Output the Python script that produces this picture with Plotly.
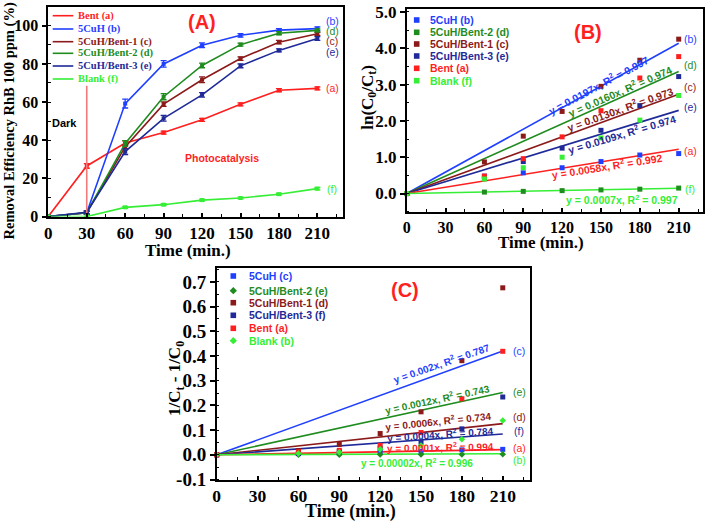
import plotly.graph_objects as go

W, H = 708, 523


def px(x, y):
    return x / W, 1 - y / H


RED = "#ff1f1f"
BLUE = "#1f3fff"
BROWN = "#8b1a1a"
GREEN = "#1f8c1f"
NAVY = "#1f2a98"
LIME = "#35ee35"
SALMON = "#f27a7a"

SERIF = "Liberation Serif"
SANS = "Liberation Sans"

# ---------------- Panel A data ----------------
time_a = [0, 30, 60, 90, 120, 150, 180, 210]
names_a = ["Bent (a)", "5CuH (b)", "5CuH/Bent-1 (c)", "5CuH/Bent-2 (d)", "5CuH/Bent-3 (e)", "Blank (f)"]
colors_a = [RED, BLUE, BROWN, GREEN, NAVY, LIME]
bent_a = [0, 26.5, 38.5, 44, 50.7, 58.8, 66.2, 67.2]
cuh_a = [0, 2, 59.2, 80, 89.8, 95, 97.7, 98.5]
bent1_a = [0, 2, 36.5, 58.9, 71.7, 82.8, 91.4, 95.8]
bent2_a = [0, 2, 38.3, 62.8, 79.2, 90.1, 96.1, 97.6]
bent3_a = [0, 2.2, 34, 51.5, 63.8, 79, 87.1, 93.3]
blank_a = [0, 0, 4.8, 6.2, 8.6, 9.7, 11.7, 14.6]
values_a = [bent_a, cuh_a, bent1_a, bent2_a, bent3_a, blank_a]
err_bent = [0, 1.2, 1.2, 0.8, 0.8, 0.8, 0.8, 0.8]
err_cuh = [0, 0.8, 2.3, 1.7, 1.2, 0.9, 0.8, 0.9]
err_bent1 = [0, 0.8, 1.0, 1.2, 1.5, 0.9, 0.9, 0.8]
err_bent2 = [0, 0.8, 1.5, 1.6, 1.2, 0.8, 0.8, 0.8]
err_bent3 = [0, 0.8, 1.5, 1.5, 1.2, 1.0, 0.8, 1.0]
err_blank = [0, 0, 0.5, 0.5, 0.5, 0.5, 0.5, 0.6]
errors_a = [err_bent, err_cuh, err_bent1, err_bent2, err_bent3, err_blank]
dark_line_x = [30, 30]
dark_line_y = [0, 68.5]
end_labels_a = ["(b)", "(d)", "(c)", "(e)", "(a)", "(f)"]
end_labels_a_y = [102.5, 97.3, 92, 86.5, 67.5, 14.2]
end_colors_a = [BLUE, GREEN, BROWN, NAVY, RED, LIME]

# ---------------- Panel B data ----------------
time_b = [0, 60, 90, 120, 150, 180, 210]
names_b = ["5CuH (b)", "5CuH/Bent-2 (d)", "5CuH/Bent-1 (c)", "5CuH/Bent-3 (e)", "Bent (a)", "Blank (f)"]
colors_b = [BLUE, GREEN, BROWN, NAVY, RED, LIME]
pts_b_blue = [0, 0.48, 0.57, 0.71, 0.88, 1.06, 1.10]
pts_b_green = [0, 0.04, 0.06, 0.08, 0.10, 0.12, 0.15]
pts_b_brown = [0, 0.87, 1.58, 2.26, 2.95, 3.67, 4.25]
pts_b_navy = [0, 0.43, 0.88, 1.25, 1.74, 2.42, 3.22]
pts_b_red = [0, 0.48, 0.96, 1.56, 2.28, 3.18, 3.77]
pts_b_lime = [0, 0.40, 0.71, 1.00, 1.53, 2.02, 2.70]
points_b = [pts_b_blue, pts_b_green, pts_b_brown, pts_b_navy, pts_b_red, pts_b_lime]
fit_slopes_b = [0.0197, 0.0160, 0.0130, 0.0109, 0.0058, 0.0007]
fit_colors_b = [BLUE, GREEN, BROWN, NAVY, RED, LIME]
fit_r2_b = ["0.997", "0.974", "0.973", "0.974", "0.992", "0.997"]
fit_slope_txt_b = ["0.0197", "0.0160", "0.0130", "0.0109", "0.0058", "0.0007"]
end_labels_b = ["(b)", "(d)", "(c)", "(e)", "(a)", "(f)"]
end_labels_b_y = [4.25, 3.55, 2.93, 2.38, 1.18, 0.12]

# ---------------- Panel C data ----------------
time_c = [0, 60, 90, 120, 150, 180, 210]
names_c = ["5CuH (c)", "5CuH/Bent-2 (e)", "5CuH/Bent-1 (d)", "5CuH/Bent-3 (f)", "Bent (a)", "Blank (b)"]
colors_c = [BLUE, GREEN, BROWN, NAVY, RED, LIME]
symbols_c = ["square", "diamond", "square", "square", "square", "diamond"]
pts_c_blue = [0, 0.006, 0.008, 0.012, 0.014, 0.020, 0.022]
pts_c_green = [0, 0.0005, 0.0007, 0.0009, 0.0011, 0.0014, 0.0018]
pts_c_brown = [0, 0.017, 0.042, 0.086, 0.174, 0.381, 0.676]
pts_c_navy = [0, 0.005, 0.014, 0.027, 0.051, 0.105, 0.234]
pts_c_red = [0, 0.012, 0.018, 0.038, 0.090, 0.227, 0.419]
pts_c_lime = [0, 0.005, 0.010, 0.022, 0.038, 0.063, 0.139]
points_c = [pts_c_blue, pts_c_green, pts_c_brown, pts_c_navy, pts_c_red, pts_c_lime]
fit_slopes_c = [0.002, 0.0012, 0.0006, 0.0004, 0.0001, 0.00002]
fit_colors_c = [BLUE, GREEN, BROWN, NAVY, RED, LIME]
fit_r2_c = ["0.787", "0.743", "0.734", "0.784", "0.994", "0.996"]
fit_slope_txt_c = ["0.002", "0.0012", "0.0006", "0.0004", "0.0001", "0.00002"]
end_labels_c = ["(c)", "(e)", "(d)", "(f)", "(a)", "(b)"]
end_labels_c_y = [0.42, 0.253, 0.152, 0.098, 0.029, -0.02]

fit_x = [0, 210]

fig = go.Figure()

# Panel A traces
for name, col, vals, err in zip(names_a, colors_a, values_a, errors_a):
    fig.add_trace(go.Scatter(
        x=time_a, y=vals, mode="lines+markers", name=name,
        line=dict(color=col, width=1.6),
        marker=dict(color=col, size=4, symbol="square"),
        error_y=dict(type="data", array=err, visible=True, color=col, thickness=1.3, width=3),
        xaxis="x", yaxis="y", showlegend=False, cliponaxis=False))
fig.add_trace(go.Scatter(x=dark_line_x, y=dark_line_y, mode="lines",
                         line=dict(color=SALMON, width=1.6),
                         xaxis="x", yaxis="y", showlegend=False))

# Panel B traces
for slope, col in zip(fit_slopes_b, fit_colors_b):
    fig.add_trace(go.Scatter(x=fit_x, y=[slope * t for t in fit_x], mode="lines",
                             line=dict(color=col, width=1.6),
                             xaxis="x2", yaxis="y2", showlegend=False))
for name, col, vals in zip(names_b, colors_b, points_b):
    fig.add_trace(go.Scatter(x=time_b, y=vals, mode="markers", name=name,
                             marker=dict(color=col, size=5, symbol="square"),
                             xaxis="x2", yaxis="y2", showlegend=False, cliponaxis=False))

# Panel C traces
for slope, col in zip(fit_slopes_c, fit_colors_c):
    fig.add_trace(go.Scatter(x=fit_x, y=[slope * t for t in fit_x], mode="lines",
                             line=dict(color=col, width=1.6),
                             xaxis="x3", yaxis="y3", showlegend=False))
for name, col, vals, sym in zip(names_c, colors_c, points_c, symbols_c):
    fig.add_trace(go.Scatter(x=time_c, y=vals, mode="markers", name=name,
                             marker=dict(color=col, size=5, symbol=sym),
                             xaxis="x3", yaxis="y3", showlegend=False, cliponaxis=False))


def axis(domain, anchor, rng, dtick, minor_dtick, size, ticks="outside", ticklen=5, **kw):
    d = dict(domain=domain, anchor=anchor, range=rng, dtick=dtick, tick0=0,
             showline=True, mirror=True, linecolor="black", linewidth=1.5,
             ticks=ticks, ticklen=ticklen, tickwidth=1.5, tickcolor="black",
             showgrid=False, zeroline=False,
             tickfont=dict(family=SERIF, size=size, color="black", weight="bold"),
             minor=dict(ticks="inside", ticklen=3, tickwidth=1, tickcolor="black",
                        dtick=minor_dtick, showgrid=False))
    d.update(kw)
    return d


xa0, ya0 = px(48.3, 216.5)
xa1, ya1 = px(343, 6.7)
xb0, yb0 = px(406.7, 211.7)
xb1, yb1 = px(703.3, 9)
xc0, yc0 = px(216.7, 479.5)
xc1, yc1 = px(530, 268.3)

ticks_x = [0, 30, 60, 90, 120, 150, 180, 210]
ticks_b_y = [0, 1, 2, 3, 4, 5]
ticks_c_y = [-0.1, 0, 0.1, 0.2, 0.3, 0.4, 0.5, 0.6, 0.7]

fig.update_layout(
    width=W, height=H, margin=dict(l=0, r=0, t=0, b=0, autoexpand=False),
    paper_bgcolor="white", plot_bgcolor="white", showlegend=False,
    xaxis=axis([xa0, xa1], "y", [0, 230], 30, 15, 17, ticks="inside", ticklen=4, tickvals=ticks_x),
    yaxis=axis([ya0, ya1], "x", [0, 110], 20, 10, 16),
    xaxis2=axis([xb0, xb1], "y2", [0, 229], 30, 15, 16, ticks="inside", ticklen=4, tickvals=ticks_x),
    yaxis2=axis([yb0, yb1], "x2", [-0.5, 5.08], 1, 0.5, 17,
                tickvals=ticks_b_y, ticktext=[f"{v:.1f}" for v in ticks_b_y]),
    xaxis3=axis([xc0, xc1], "y3", [0, 230], 30, 15, 17.5, ticks="inside", ticklen=4, tickvals=ticks_x),
    yaxis3=axis([yc0, yc1], "x3", [-0.1, 0.755], 0.1, 0.05, 19,
                tickvals=ticks_c_y, ticktext=[f"{v:.1f}" for v in ticks_c_y]),
)

ann = []
shapes = []


def text(x, y, s, size, color, family=SANS, bold=True, angle=0, xanchor="center", yanchor="middle", pad=1):
    X, Y = px(x, y)
    ann.append(dict(x=X, y=Y, xref="paper", yref="paper", text=(f"<b>{s}</b>" if bold else s),
                    showarrow=False, textangle=angle, xanchor=xanchor, yanchor=yanchor,
                    borderpad=pad, font=dict(family=family, size=size, color=color)))


def key_marker(x, y, col, sym, r=2.8):
    if sym == "square":
        x0, y0 = px(x - r, y + r)
        x1, y1 = px(x + r, y - r)
        shapes.append(dict(type="rect", xref="paper", yref="paper", x0=x0, x1=x1, y0=y0, y1=y1,
                           fillcolor=col, line=dict(width=0)))
    else:
        r = r * 1.3
        pts = [px(x, y - r), px(x + r, y), px(x, y + r), px(x - r, y)]
        path = "M " + " L ".join(f"{a:.5f},{b:.5f}" for a, b in pts) + " Z"
        shapes.append(dict(type="path", xref="paper", yref="paper", path=path,
                           fillcolor=col, line=dict(width=0)))


# Panel A annotations
text(201.7, 21.7, "(A)", 20, RED)
text(64, 123, "Dark", 11, "black")
text(221.7, 158, "Photocatalysis", 10.5, RED)
for lab, yv, col in zip(end_labels_a, end_labels_a_y, end_colors_a):
    ann.append(dict(x=221.5, y=yv, xref="x", yref="y", text=lab, showarrow=False,
                    borderpad=0, font=dict(family=SANS, size=10.5, color=col), xanchor="center"))
legend_rows_a = [15.7, 29, 41.7, 53.3, 66, 79]
for name, col, ry in zip(names_a, colors_a, legend_rows_a):
    x0, y0 = px(52.7, ry)
    x1, _ = px(73.3, ry)
    shapes.append(dict(type="line", xref="paper", yref="paper", x0=x0, x1=x1, y0=y0, y1=y0,
                       line=dict(color=col, width=1.6)))
    text(75.7, ry, name, 10.5, col, family=SERIF, xanchor="left")
text(9.5, 121, "Removal Efficiency RhB 100 ppm (%)", 14.5, "black", family=SERIF, angle=-90)
text(188, 250, "Time (min.)", 17, "black", family=SERIF)

# Panel B annotations
text(588.3, 31.7, "(B)", 20, RED)
legend_rows_b = [20, 32.3, 44, 56, 68.3, 80.7]
for name, col, ry in zip(names_b, colors_b, legend_rows_b):
    key_marker(416.7, ry, col, "square")
    text(427.7, ry, name, 10.5, col, xanchor="left")
eq_pos_b = [(598.3, 84, -28), (620, 90.7, -23.5), (620, 108.3, -19.5), (621.7, 134, -16.5), (606.7, 165, -9), (621.7, 199.5, 0)]
for (ex, ey, ang), s, r2, col in zip(eq_pos_b, fit_slope_txt_b, fit_r2_b, fit_colors_b):
    text(ex, ey, f"y = {s}x, R<sup>2</sup> = {r2}", 10.5, col, angle=ang)
for lab, yv, col in zip(end_labels_b, end_labels_b_y, fit_colors_b):
    ann.append(dict(x=219, y=yv, xref="x2", yref="y2", text=lab, showarrow=False,
                    font=dict(family=SANS, size=10.5, color=col), xanchor="center"))
text(368.3, 97.5, "ln(C<sub>0</sub>/C<sub>t</sub>)", 17, "black", family=SERIF, angle=-90)
text(540.7, 242.5, "Time (min.)", 17, "black", family=SERIF)

# Panel C annotations
text(405, 290, "(C)", 20, RED)
legend_rows_c = [276, 290.7, 302.7, 315.3, 328.3, 340.7]
for name, col, ry, sym in zip(names_c, colors_c, legend_rows_c, symbols_c):
    key_marker(233.3, ry, col, sym)
    text(247.3, ry, name, 10.5, col, xanchor="left")
eq_pos_c = [(441.7, 363.3, -19), (437.3, 399, -12), (438.3, 420.7, -6), (440.7, 434, -4), (440.7, 447.3, -1), (417.3, 463.3, 0)]
for (ex, ey, ang), s, r2, col in zip(eq_pos_c, fit_slope_txt_c, fit_r2_c, fit_colors_c):
    text(ex, ey, f"y = {s}x, R<sup>2</sup> = {r2}", 10, col, angle=ang)
for lab, yv, col in zip(end_labels_c, end_labels_c_y, fit_colors_c):
    ann.append(dict(x=222, y=yv, xref="x3", yref="y3", text=lab, showarrow=False,
                    font=dict(family=SANS, size=10.5, color=col), xanchor="center"))
text(176.7, 378.3, "1/C<sub>t</sub> - 1/C<sub>0</sub>", 17, "black", family=SERIF, angle=-90)
text(350, 523, "Time (min.)", 18, "black", family=SERIF, yanchor="bottom", pad=0)

fig.update_layout(annotations=ann, shapes=shapes)
fig.write_html("out.html")
